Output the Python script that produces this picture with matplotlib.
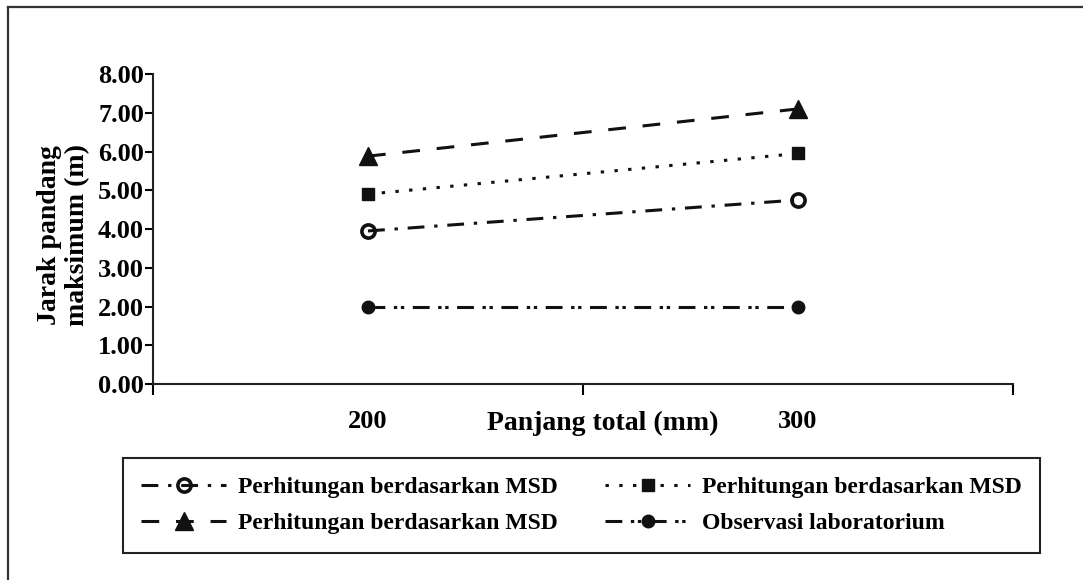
import matplotlib
matplotlib.use("Agg")
import matplotlib.pyplot as plt
from matplotlib.lines import Line2D

categories = ["200", "300"]
circle_msd = [3.95, 4.75]
square_msd = [4.90, 5.95]
triangle_msd = [5.88, 7.10]
observasi = [2.00, 2.00]
y_ticks = [0, 1, 2, 3, 4, 5, 6, 7, 8]
labels = ["Perhitungan berdasarkan MSD", "Perhitungan berdasarkan MSD",
          "Perhitungan berdasarkan MSD", "Observasi laboratorium"]

plt.rcParams['font.family'] = ['Liberation Serif', 'DejaVu Serif']
plt.rcParams['font.weight'] = 'bold'

fig = plt.figure(figsize=(10.83, 5.8), dpi=100)
ax = fig.add_axes([0.1413, 0.3379, 0.9354 - 0.1413, 0.8724 - 0.3379])

x = [0.5, 1.5]
lw = 2.2
l_circ, = ax.plot(x, circle_msd, color='#111111', lw=lw, marker='o', ms=9.5,
                  mfc='none', mec='#111111', mew=2.6,
                  dashes=(5.5, 3.2, 1.1, 3.2), dash_capstyle='butt')
l_sq, = ax.plot(x, square_msd, color='#111111', lw=lw, marker='s', ms=9,
                dashes=(1.1, 3.4), dash_capstyle='butt')
l_tri, = ax.plot(x, triangle_msd, color='#111111', lw=lw, marker='^', ms=13,
                 dashes=(5.8, 5.5), dash_capstyle='butt')
l_obs, = ax.plot(x, observasi, color='#111111', lw=lw, marker='o', ms=9,
                 dashes=(5.5, 2.8, 1.1, 1.2, 1.1, 2.8), dash_capstyle='butt')

ax.set_xlim(0, 2)
ax.set_ylim(0, 8)
ax.set_yticks(y_ticks)
ax.set_yticklabels([f"{v:.2f}" for v in y_ticks], fontsize=19, fontweight='bold')
ax.set_xticks([0, 1, 2])
ax.set_xticklabels([])
ax.set_xticks(x, minor=True)
ax.set_xticklabels(categories, minor=True, fontsize=19, fontweight='bold')
ax.tick_params(axis='x', which='minor', length=0, pad=19)
ax.tick_params(axis='x', which='major', length=8, width=1.5, direction='out')
ax.tick_params(axis='y', length=6, width=1.5, direction='out', pad=0.5)
for s in ['top', 'right']:
    ax.spines[s].set_visible(False)
for s in ['left', 'bottom']:
    ax.spines[s].set_linewidth(1.5)
    ax.spines[s].set_color('#222222')

ax.text(1.047, -0.085, "Panjang total (mm)", transform=ax.get_xaxis_transform(),
        ha='center', va='top', fontsize=20, fontweight='bold')
fig.text(0.0586, 0.595, "Jarak pandang\nmaksimum (m)", rotation=90,
         ha='center', va='center', fontsize=20, fontweight='bold', linespacing=1.2)

leg = fig.legend([l_circ, l_tri, l_sq, l_obs],
                 [labels[0], labels[2], labels[1], labels[3]],
                 ncol=2, loc='upper left',
                 bbox_to_anchor=(0.1136, 0.2103, 0.8467, 0.0),
                 mode='expand', borderaxespad=0, fancybox=False,
                 edgecolor='#222222', framealpha=1, handlelength=3.6,
                 prop={'size': 17, 'weight': 'bold'}, borderpad=0.78,
                 labelspacing=0.62, handletextpad=0.5, columnspacing=1.0)
leg.get_frame().set_linewidth(1.5)

fig.add_artist(Line2D([0.0074, 0.0074], [0.0, 0.988], transform=fig.transFigure,
                      color='#333333', lw=1.6))
fig.add_artist(Line2D([0.0074, 1.0], [0.988, 0.988], transform=fig.transFigure,
                      color='#333333', lw=1.6))

fig.savefig("out.png", dpi=100)
